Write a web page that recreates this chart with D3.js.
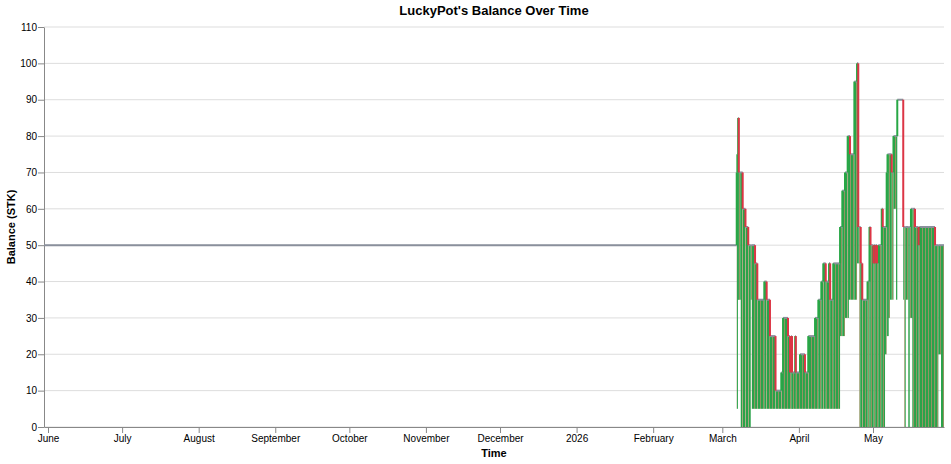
<!DOCTYPE html>
<html>
<head>
<meta charset="utf-8">
<script src="https://cdn.jsdelivr.net/npm/d3@7/dist/d3.min.js"></script>
<style>
  body { margin: 0; background: #fff; }
  text { font-family: "Liberation Sans", Arial, sans-serif; }
</style>
</head>
<body>
<div id="chart"></div>
<script>
// pot balance, flat from the start until play begins
const startDate = "2025-05-30T09:00";
const endDate = "2026-05-29T18:00";
const startBalance = 50;

// each step: when it starts, top balance reached, lowest balance in that stretch
const stepDates = [
  "2026-03-06T20:00", "2026-03-07T02:00", "2026-03-07T10:00", "2026-03-07T16:00", "2026-03-08T11:00",
  "2026-03-09T06:00", "2026-03-10T09:00", "2026-03-11T12:00", "2026-03-12T12:00", "2026-03-12T22:00",
  "2026-03-14T06:00", "2026-03-15T04:00", "2026-03-18T00:00", "2026-03-18T23:00", "2026-03-20T07:00",
  "2026-03-22T13:00", "2026-03-24T21:00", "2026-03-25T14:00", "2026-03-27T14:00", "2026-03-28T10:00",
  "2026-03-28T22:00", "2026-03-29T05:00", "2026-03-30T12:00", "2026-03-30T18:00", "2026-04-01T11:00",
  "2026-04-03T11:00", "2026-04-04T19:00", "2026-04-07T13:00", "2026-04-08T21:00", "2026-04-10T02:00",
  "2026-04-10T21:00", "2026-04-11T21:00", "2026-04-13T05:00", "2026-04-13T16:00", "2026-04-14T22:00",
  "2026-04-17T16:00", "2026-04-18T14:00", "2026-04-19T16:00", "2026-04-20T18:00", "2026-04-21T00:00",
  "2026-04-21T17:00", "2026-04-23T11:00", "2026-04-24T13:00", "2026-04-25T01:00", "2026-04-25T11:00",
  "2026-04-26T01:00", "2026-04-26T16:00", "2026-04-28T19:00", "2026-04-29T14:00", "2026-04-30T00:00",
  "2026-05-01T05:00", "2026-05-01T10:00", "2026-05-01T23:00", "2026-05-02T03:00", "2026-05-02T15:00",
  "2026-05-03T04:00", "2026-05-04T13:00", "2026-05-04T23:00", "2026-05-05T21:00", "2026-05-06T13:00",
  "2026-05-06T21:00", "2026-05-07T05:00", "2026-05-07T21:00", "2026-05-08T14:00", "2026-05-09T07:00",
  "2026-05-10T08:00", "2026-05-10T20:00", "2026-05-13T06:00", "2026-05-13T16:00", "2026-05-14T06:00",
  "2026-05-15T07:00", "2026-05-15T21:00", "2026-05-16T09:00", "2026-05-16T22:00", "2026-05-18T00:00",
  "2026-05-19T11:00", "2026-05-19T17:00", "2026-05-26T03:00", "2026-05-27T11:00", "2026-05-28T13:00"
];
const stepHigh = [
  70, 75, 85, 70, 70,
  60, 55, 50, 50, 50,
  45, 35, 40, 35, 25,
  10, 15, 30, 25, 15,
  25, 15, 25, 15, 20,
  15, 25, 30, 35, 40,
  45, 40, 45, 35, 45,
  55, 65, 70, 80, 80,
  75, 95, 100, 55, 55,
  45, 35, 40, 55, 50,
  45, 50, 45, 50, 45,
  50, 60, 55, 55, 70,
  75, 75, 75, 70, 80,
  80, 90, 55, 55, 55,
  55, 55, 60, 60, 55,
  50, 55, 50, 50, 50
];
const stepLow = [
  5, 35, 35, 35, 0,
  0, 0, 0, 35, 5,
  5, 5, 5, 5, 5,
  5, 5, 5, 5, 5,
  5, 5, 5, 5, 5,
  5, 5, 5, 5, 5,
  5, 5, 5, 5, 5,
  25, 25, 30, 30, 35,
  35, 35, 45, 45, 0,
  0, 0, 0, 0, 0,
  0, 0, 0, 0, 0,
  0, 0, 0, 20, 25,
  25, 30, 35, 35, 60,
  35, 90, 35, 0, 35,
  0, 30, 30, 0, 0,
  0, 0, 0, 20, 0
];
const yTicks = [0, 10, 20, 30, 40, 50, 60, 70, 80, 90, 100, 110];

const W = 951, H = 464;
const margin = { top: 27, right: 7, bottom: 37, left: 44 };
const width = W - margin.left - margin.right;
const height = H - margin.top - margin.bottom;

const parse = d3.isoParse;
const steps = stepDates.map((d, i) => ({
  start: parse(d),
  end: parse(i + 1 < stepDates.length ? stepDates[i + 1] : endDate),
  hi: stepHigh[i],
  lo: stepLow[i],
  prev: i === 0 ? startBalance : stepHigh[i - 1]
}));

const svg = d3.select("#chart").append("svg")
  .attr("width", W).attr("height", H);

// striped fill mimics the dense up/down swings
const defs = svg.append("defs");
const pat = defs.append("pattern")
  .attr("id", "swings")
  .attr("patternUnits", "userSpaceOnUse")
  .attr("width", 3).attr("height", 10);
pat.append("rect").attr("width", 3).attr("height", 10).attr("fill", "#2ba24a");
pat.append("rect").attr("x", 2).attr("width", 1).attr("height", 10).attr("fill", "#a29468").attr("opacity", 0.85);

const g = svg.append("g").attr("transform", `translate(${margin.left},${margin.top})`);

const x = d3.scaleTime()
  .domain([parse(startDate), parse(endDate)])
  .range([0, width]);
const y = d3.scaleLinear()
  .domain([0, 110])
  .range([height, 0]);

// grid
g.append("g").selectAll("line").data(yTicks).join("line")
  .attr("x1", 0).attr("x2", width)
  .attr("y1", d => y(d)).attr("y2", d => y(d))
  .attr("stroke", "#ddd").attr("stroke-width", 1);

// axes
const xAxis = g.append("g")
  .attr("transform", `translate(0,${height})`)
  .call(d3.axisBottom(x).ticks(d3.timeMonth.every(1)).tickSizeOuter(0));
const yAxis = g.append("g")
  .call(d3.axisLeft(y).tickValues(yTicks).tickSizeOuter(0));
[xAxis, yAxis].forEach(a => {
  a.select(".domain").attr("stroke", "#888");
  a.selectAll(".tick line").attr("stroke", "#888");
  a.selectAll(".tick text").attr("fill", "#000").style("font-size", "10px")
    .style("font-family", '"Liberation Sans", Arial, sans-serif');
});
xAxis.selectAll(".tick text").attr("dy", "0.71em").attr("y", 8);
yAxis.selectAll(".tick text").attr("x", -7);

// swing ranges
g.append("g").selectAll("rect")
  .data(steps.filter(d => d.lo < d.hi)).join("rect")
  .attr("x", d => x(d.start))
  .attr("width", d => Math.max(x(d.end) - x(d.start), 1.2))
  .attr("y", d => y(d.hi))
  .attr("height", d => y(d.lo) - y(d.hi))
  .attr("fill", "url(#swings)");

// flat balance before play and tops of each step
const flats = [{ start: parse(startDate), end: steps[0].start, hi: startBalance }].concat(steps);
g.append("g").selectAll("line").data(flats).join("line")
  .attr("x1", d => x(d.start)).attr("x2", d => x(d.end))
  .attr("y1", d => y(d.hi)).attr("y2", d => y(d.hi))
  .attr("stroke", "#8a909c").attr("stroke-width", 2);

// rises in green, drops in red
const moves = steps.filter(d => d.hi !== d.prev);
g.append("g").selectAll("line").data(moves.filter(d => d.hi > d.prev)).join("line")
  .attr("x1", d => x(d.start)).attr("x2", d => x(d.start))
  .attr("y1", d => y(d.prev)).attr("y2", d => y(d.hi))
  .attr("stroke", "#28a745").attr("stroke-width", 2);
g.append("g").selectAll("line").data(moves.filter(d => d.hi < d.prev)).join("line")
  .attr("x1", d => x(d.start)).attr("x2", d => x(d.start))
  .attr("y1", d => y(d.prev)).attr("y2", d => y(d.hi))
  .attr("stroke", "#dc3545").attr("stroke-width", 2);

// titles
svg.append("text")
  .attr("x", margin.left + width / 2).attr("y", 15)
  .attr("text-anchor", "middle")
  .style("font-size", "13px").style("font-weight", "bold")
  .text("LuckyPot's Balance Over Time");
svg.append("text")
  .attr("x", margin.left + width / 2).attr("y", 457)
  .attr("text-anchor", "middle")
  .style("font-size", "11px").style("font-weight", "bold")
  .text("Time");
svg.append("text")
  .attr("transform", `translate(15,${margin.top + height / 2}) rotate(-90)`)
  .attr("text-anchor", "middle")
  .style("font-size", "11px").style("font-weight", "bold")
  .text("Balance (STK)");
</script>
</body>
</html>
